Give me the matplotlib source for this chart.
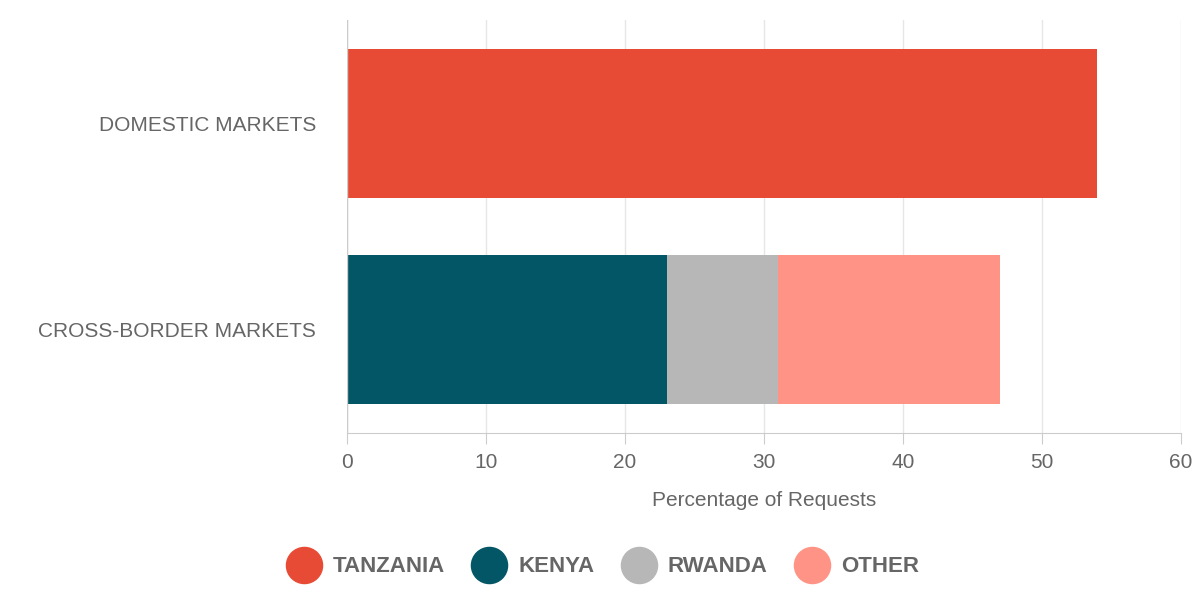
import matplotlib
matplotlib.use("Agg")
import matplotlib.pyplot as plt
from matplotlib.lines import Line2D

plt.rcParams["font.family"] = "Liberation Sans"

categories = ["DOMESTIC MARKETS", "CROSS-BORDER MARKETS"]
series_names = ["TANZANIA", "KENYA", "RWANDA", "OTHER"]
tanzania = [54, 0]
kenya = [0, 23]
rwanda = [0, 8]
other = [0, 16]
colors = ["#E84B35", "#035666", "#B7B7B7", "#FF9486"]
xticks = [0, 10, 20, 30, 40, 50, 60]

fig = plt.figure(figsize=(12, 6), dpi=100)
ax = fig.add_axes([0.289, 0.278, 0.695, 0.689])
ypos = [1, 0]
left = [0, 0]
for vals, c in zip([tanzania, kenya, rwanda, other], colors):
    ax.barh(ypos, vals, left=left, height=0.72, color=c, zorder=3)
    left = [l + v for l, v in zip(left, vals)]

ax.set_xlim(0, 60)
ax.set_ylim(-0.5, 1.5)
ax.set_xticks(xticks)
ax.set_yticks(ypos)
ax.set_yticklabels(categories)
ax.grid(axis="x", color="#E6E6E6", linewidth=1, zorder=0)
for s in ["top", "right", "left"]:
    ax.spines[s].set_visible(False)
ax.spines["bottom"].set_color("#CCCCCC")
ax.axvline(0, color="#CCCCCC", linewidth=1, zorder=4)
ax.tick_params(axis="x", length=8, color="#CCCCCC", labelsize=15, labelcolor="#666666", pad=6)
ax.tick_params(axis="y", length=0, labelsize=15, labelcolor="#666666", pad=22)
ax.set_xlabel("Percentage of Requests", fontsize=15, color="#666666", labelpad=14)

handles = [Line2D([], [], marker="o", linestyle="", markersize=26, color=c) for c in colors]
leg = fig.legend(handles, series_names, loc="center", bbox_to_anchor=(0.5, 0.055), ncol=4,
                 frameon=False, handletextpad=0.3, columnspacing=1.0,
                 prop={"size": 16, "weight": "bold"})
for t in leg.get_texts():
    t.set_color("#666666")

fig.savefig("out.png")
